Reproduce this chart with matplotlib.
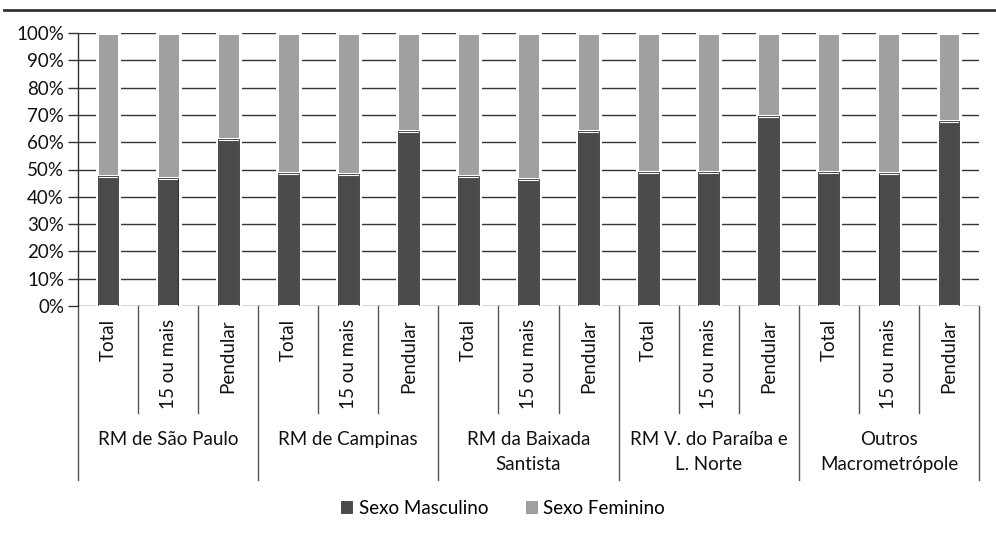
import matplotlib
matplotlib.use("Agg")
import matplotlib.pyplot as plt
from matplotlib.patches import Patch
from matplotlib.lines import Line2D
import numpy as np

plt.rcParams['font.family'] = ['Lato', 'DejaVu Sans']

groups = ["RM de São Paulo", "RM de Campinas", "RM da Baixada\nSantista",
          "RM V. do Paraíba e\nL. Norte", "Outros\nMacrometrópole"]
subcats = ["Total", "15 ou mais", "Pendular"]
masculino = [47.7, 47.0, 61.2,
             48.7, 48.3, 64.1,
             47.7, 46.4, 64.1,
             49.1, 49.1, 69.7,
             49.1, 48.6, 67.8]
feminino = [100 - v for v in masculino]
series_names = ["Sexo Masculino", "Sexo Feminino"]
yticks = [0, 10, 20, 30, 40, 50, 60, 70, 80, 90, 100]
ytick_labels = [f"{t}%" for t in yticks]

c_dark = "#4a4a4a"
c_light = "#a0a0a0"
fs = 13.5

W, H = 996, 536
fig = plt.figure(figsize=(W / 100, H / 100), dpi=100)
x0, x1, ytop, ybot = 78, 979, 33, 306
ax = fig.add_axes([x0 / W, 1 - ybot / H, (x1 - x0) / W, (ybot - ytop) / H])

n = len(masculino)
x = np.arange(n)
bw = 0.38
ax.bar(x, masculino, width=bw, color=c_dark, edgecolor="white", linewidth=2.2, zorder=3)
ax.bar(x, feminino, width=bw, bottom=masculino, color=c_light, edgecolor="white", linewidth=2.2, zorder=3)
ax.bar(x, masculino, width=bw - 0.035, color="none", edgecolor="#2a2a2a", linewidth=0.6, zorder=4)

ax.set_xlim(-0.5, n - 0.5)
ax.set_ylim(0, 100)
ax.set_yticks(yticks)
ax.set_yticklabels(ytick_labels, fontsize=fs, color="#111111")
ax.yaxis.grid(True, color="#333333", linewidth=1.0, zorder=0)
ax.set_axisbelow(True)
ax.tick_params(axis="y", length=7, width=1.0, color="#333333", pad=3)
ax.set_xticks([])
for s in ["top", "right", "bottom"]:
    ax.spines[s].set_visible(False)
ax.spines["left"].set_color("#333333")
ax.spines["left"].set_linewidth(1.0)

# category axis structure
px = ybot - ytop
sub_bottom = -(413 - ybot) / px
grp_bottom = -(480 - ybot) / px
for k in range(n + 1):
    xx = k - 0.5
    yb = grp_bottom if k % 3 == 0 else sub_bottom
    ax.plot([xx, xx], [0, yb], transform=ax.get_xaxis_transform(), color="#555555",
            linewidth=1.0, clip_on=False)

for i in range(n):
    ax.text(i, -(319 - ybot) / px, subcats[i % 3], rotation=90, ha="center", va="top",
            fontsize=fs, transform=ax.get_xaxis_transform(), color="#111111")

for g, name in enumerate(groups):
    ax.text(3 * g + 1, -(431 - ybot) / px, name, ha="center", va="top", fontsize=fs,
            linespacing=1.6, transform=ax.get_xaxis_transform(), color="#111111")

# top rule
fig.add_artist(Line2D([4 / W, 1.0], [1 - 9.5 / H, 1 - 9.5 / H], color="#333333", linewidth=2.0))

handles = [Patch(facecolor=c_dark, edgecolor="#2a2a2a", linewidth=0.5),
           Patch(facecolor=c_light, edgecolor="#888888", linewidth=0.5)]
fig.legend(handles, series_names, loc="center", bbox_to_anchor=(0.505, 1 - 508 / H), ncol=2,
           frameon=False, fontsize=fs, handlelength=0.6, handleheight=0.6,
           handletextpad=0.35, columnspacing=2.0)

fig.savefig("out.png", dpi=100, facecolor="white")
